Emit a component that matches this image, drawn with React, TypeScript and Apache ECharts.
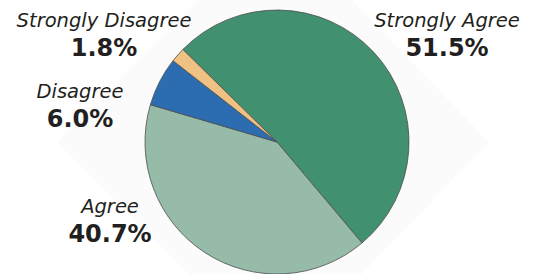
import React, { useEffect, useRef } from "react";
import * as echarts from "echarts";

const categories = ["Strongly Agree", "Agree", "Disagree", "Strongly Disagree"];
const values = [51.5, 40.7, 6.0, 1.8];

const colors = ["#41906f", "#97bba9", "#2c6db2", "#efc283"];
const labelPos: [number, number][] = [
  [447, 34],
  [110, 220],
  [80, 105],
  [104, 34],
];

export default function App() {
  const ref = useRef<HTMLDivElement>(null);
  useEffect(() => {
    document.body.style.margin = "0";
    const chart = echarts.init(ref.current!, null, { renderer: "svg" });
    const cx = 277;
    const cy = 142;
    const d = 220;
    chart.setOption({
      animation: false,
      backgroundColor: "#ffffff",
      graphic: [
        {
          type: "polygon",
          z: -10,
          silent: true,
          shape: {
            points: [
              [cx - d, cy],
              [cx, cy - d],
              [cx + d - 8, cy],
              [cx, cy + d],
            ],
          },
          style: { fill: "#fbfbfb" },
        },
      ],
      series: [
        {
          type: "pie",
          center: [cx, cy],
          radius: [0, 132],
          startAngle: 135.5,
          clockwise: true,
          avoidLabelOverlap: false,
          itemStyle: { borderColor: "#4d4d4d", borderWidth: 0.8 },
          labelLine: { show: false },
          label: {
            show: true,
            position: "outside",
            formatter: (p: any) => `{a|${p.name}}\n{b|${p.value.toFixed(1)}%}`,
            rich: {
              a: {
                fontFamily: "DejaVu Sans",
                fontStyle: "italic",
                fontSize: 19.5,
                color: "#231f20",
                lineHeight: 28,
                align: "center",
              },
              b: {
                fontFamily: "DejaVu Sans",
                fontWeight: "bold",
                fontSize: 24,
                color: "#231f20",
                lineHeight: 28,
                align: "center",
              },
            },
          },
          labelLayout: (params: any) => ({
            x: labelPos[params.dataIndex][0],
            y: labelPos[params.dataIndex][1],
            align: "center",
            verticalAlign: "middle",
          }),
          data: categories.map((name, i) => ({
            name,
            value: values[i],
            itemStyle: { color: colors[i] },
          })),
        },
      ],
    });
    return () => chart.dispose();
  }, []);
  return <div ref={ref} style={{ width: 537, height: 274 }} />;
}
